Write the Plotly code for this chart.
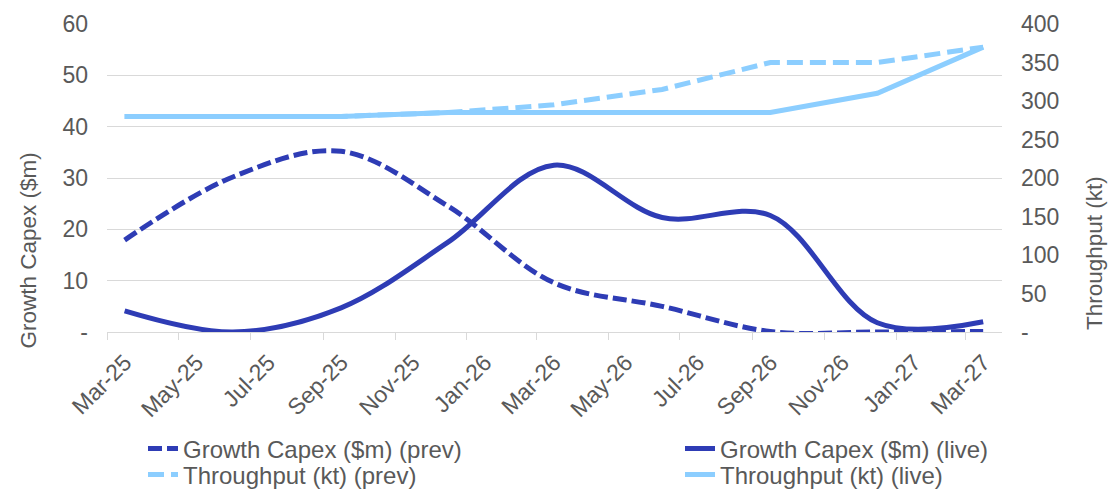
import pandas as pd
import plotly.graph_objects as go

# ---- data ----
months = ["2025-03", "2025-06", "2025-09", "2025-12", "2026-03",
          "2026-06", "2026-09", "2026-12", "2027-03"]
capex_prev = [17.9, 30.2, 35.2, 24.5, 9.6, 5.0, 0.1, 0.0, 0.1]
capex_live = [4.1, 0.0, 4.7, 17.5, 32.5, 22.3, 22.7, 1.8, 2.0]
thru_prev = [280, 280, 280, 285, 295, 315, 350, 350, 370]
thru_live = [280, 280, 280, 285, 285, 285, 285, 310, 370]

left_ticks = [0, 10, 20, 30, 40, 50, 60]
left_text = ["-", "10", "20", "30", "40", "50", "60"]
right_ticks = [0, 50, 100, 150, 200, 250, 300, 350, 400]
right_text = ["-", "50", "100", "150", "200", "250", "300", "350", "400"]

# points sit in the middle of each month (category-style date axis)
x = pd.to_datetime(months) + pd.Timedelta(days=15)

DARK = "#2E3CB5"
LIGHT = "#8CCEFF"
GREY = "#595959"
GRID = "#D9D9D9"
FONT = "Liberation Sans, Arial, sans-serif"

W, H = 1108, 489
L, R, T, B = 107, 106, 24, 157
pw, ph = W - L - R, H - T - B


def px(xp):
    return (xp - L) / pw


def py(yp):
    return (H - B - yp) / ph


fig = go.Figure()
fig.add_trace(go.Scatter(x=x, y=capex_prev, name="Growth Capex ($m) (prev)", mode="lines",
                         line=dict(color=DARK, width=5, dash="14px,5px", shape="spline"),
                         legend="legend"))
fig.add_trace(go.Scatter(x=x, y=capex_live, name="Growth Capex ($m) (live)", mode="lines",
                         line=dict(color=DARK, width=5, shape="spline"),
                         legend="legend2"))
fig.add_trace(go.Scatter(x=x, y=thru_prev, name="Throughput (kt) (prev)", mode="lines",
                         line=dict(color=LIGHT, width=5, dash="16px,7px"),
                         yaxis="y2", legend="legend3"))
fig.add_trace(go.Scatter(x=x, y=thru_live, name="Throughput (kt) (live)", mode="lines",
                         line=dict(color=LIGHT, width=5),
                         yaxis="y2", legend="legend4"))

leg_font = dict(family=FONT, size=24, color=GREY)
c1, c2 = px(143), px(680)
r1, r2 = py(426.5), py(452.5)
leg_common = dict(xanchor="left", yanchor="top", font=leg_font, bgcolor="rgba(0,0,0,0)")

fig.update_layout(
    width=W, height=H,
    margin=dict(l=L, r=R, t=T, b=B, autoexpand=False),
    paper_bgcolor="white", plot_bgcolor="white",
    font=dict(family=FONT, size=23, color=GREY),
    showlegend=True,
    xaxis=dict(type="date", range=["2025-03-01", "2027-04-01"],
               tick0="2025-03-01", dtick="M2", tickformat="%b-%y",
               tickangle=-45, ticklabelshift=18, automargin=False,
               ticks="outside", ticklen=7, tickcolor=GRID,
               showline=True, linecolor=GRID, linewidth=1,
               showgrid=False, zeroline=False,
               tickfont=dict(family=FONT, size=23, color=GREY)),
    yaxis=dict(range=[0, 60], tickmode="array", tickvals=left_ticks, ticktext=left_text,
               showgrid=True, gridcolor=GRID, gridwidth=1, zeroline=False,
               ticks="", ticklabelstandoff=18, automargin=False,
               tickfont=dict(family=FONT, size=23, color=GREY)),
    yaxis2=dict(range=[0, 400], tickmode="array", tickvals=right_ticks, ticktext=right_text,
                overlaying="y", side="right", showgrid=False, zeroline=False,
                ticks="", ticklabelstandoff=18, automargin=False,
                tickfont=dict(family=FONT, size=23, color=GREY)),
    legend=dict(x=c1, y=r1, **leg_common),
    legend2=dict(x=c2, y=r1, **leg_common),
    legend3=dict(x=c1, y=r2, **leg_common),
    legend4=dict(x=c2, y=r2, **leg_common),
    annotations=[
        dict(text="Growth Capex ($m)", xref="paper", yref="paper", x=px(27.5), y=py(251),
             xanchor="center", yanchor="middle",
             textangle=-90, showarrow=False, font=dict(family=FONT, size=22.5, color=GREY)),
        dict(text="Throughput (kt)", xref="paper", yref="paper", x=px(1095), y=py(253),
             xanchor="center", yanchor="middle",
             textangle=-90, showarrow=False, font=dict(family=FONT, size=22.5, color=GREY)),
    ],
)

fig.write_html("out.html")
